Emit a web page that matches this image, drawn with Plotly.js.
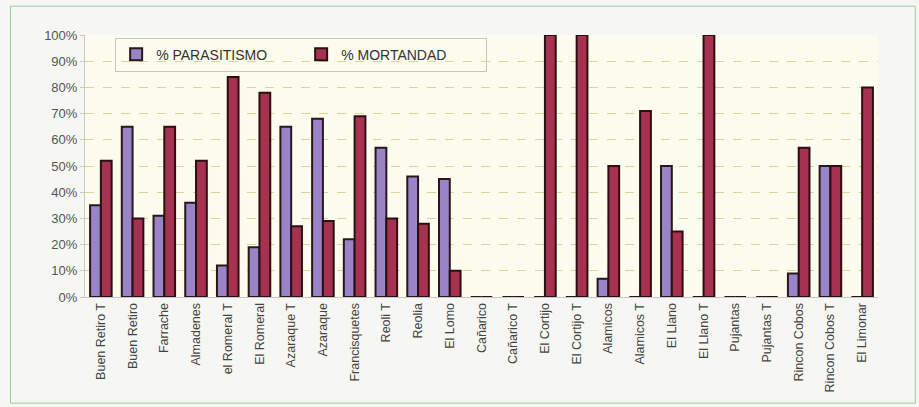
<!DOCTYPE html>
<html><head><meta charset="utf-8">
<script src="https://cdn.plot.ly/plotly-3.0.1.min.js"></script>
<style>html,body{margin:0;padding:0;background:#f6f7f2;}#c{width:919px;height:407px;}</style>
</head><body><div id="c"></div>
<script>
const categories = ["Buen Retiro T","Buen Retiro","Farrache","Almadenes","el Romeral T","El Romeral","Azaraque T","Azaraque","Francisquetes","Reoli T","Reolia","El Lomo","Cañarico","Cañarico T","El Cortijo","El Cortijo T","Alamicos","Alamicos T","El Llano","El Llano T","Pujantas","Pujantas T","Rincon Cobos","Rincon Cobos T","El Limonar"];
const parasitismo = [35,65,31,36,12,19,65,68,22,57,46,45,0,0,0,0,7,0,50,0,0,0,9,50,0];
const mortandad = [52,30,65,52,84,78,27,29,69,30,28,10,0,0,100,100,50,71,25,100,0,0,57,50,80];
const yTicks = [0,10,20,30,40,50,60,70,80,90,100];
const yTickLabels = yTicks.map(v => v + "%");

const traces = [
  {type:"bar", name:"% PARASITISMO", x:categories, y:parasitismo,
   marker:{color:"#9a84c8", line:{color:"#2a1818", width:2}}},
  {type:"bar", name:"% MORTANDAD", x:categories, y:mortandad,
   marker:{color:"#a6324f", line:{color:"#2a1010", width:2}}}
];
const layout = {
  width:919, height:407,
  paper_bgcolor:"#f6f7f2", plot_bgcolor:"#fbfbee",
  margin:{l:85, r:41, t:35, b:110},
  barmode:"group", bargap:0.32, bargroupgap:0,
  font:{family:"Liberation Sans, Arial, sans-serif", size:12, color:"#333"},
  xaxis:{tickangle:-90, showgrid:false, showline:true, linecolor:"#c8c8c8", ticks:"", ticklen:6,
         tickfont:{size:12.5, color:"#444"}},
  yaxis:{range:[0,100], tickvals:yTicks, ticktext:yTickLabels, showgrid:true,
         gridcolor:"#d6d69a", griddash:"dash", gridwidth:1, showline:true, linecolor:"#c8c8c8",
         ticks:"outside", ticklen:4, tickcolor:"#c8c8c8", tickfont:{size:13, color:"#555"}, zeroline:false},
  legend:{orientation:"h", x:0.038, y:0.925, xanchor:"left", yanchor:"middle",
          bgcolor:"rgba(0,0,0,0)", bordercolor:"#c4c4c4", borderwidth:1,
          font:{size:14, color:"#333"}, itemwidth:30, entrywidth:140, tracegroupgap:0},
  shapes:[{type:"rect", xref:"paper", yref:"paper", x0:-0.094, x1:1.047, y0:-0.405, y1:1.11,
           line:{color:"#9ccb9c", width:1}, fillcolor:"rgba(0,0,0,0)"}],
  showlegend:true
};
Plotly.newPlot("c", traces, layout, {displayModeBar:false, staticPlot:true});
</script></body></html>
